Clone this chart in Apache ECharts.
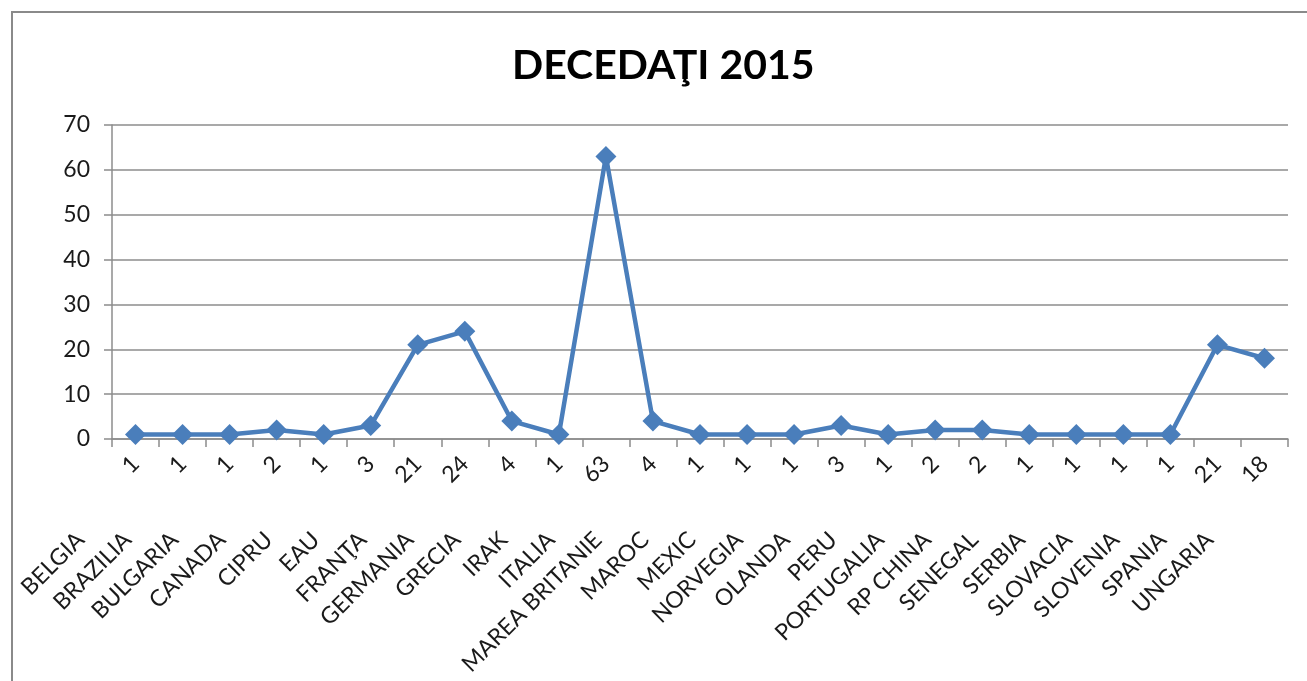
<!DOCTYPE html>
<html>
<head>
<meta charset="utf-8">
<script src="https://cdn.jsdelivr.net/npm/echarts@6/dist/echarts.min.js"></script>
<style>
  html, body { margin: 0; padding: 0; background: #fff; }
  #chart { width: 1307px; height: 681px; }
</style>
</head>
<body>
<div id="chart"></div>
<script>
const countries = ['BELGIA', 'BRAZILIA', 'BULGARIA', 'CANADA', 'CIPRU', 'EAU', 'FRANŢA', 'GERMANIA', 'GRECIA', 'IRAK', 'ITALIA', 'MAREA BRITANIE', 'MAROC', 'MEXIC', 'NORVEGIA', 'OLANDA', 'PERU', 'PORTUGALIA', 'RP CHINA', 'SENEGAL', 'SERBIA', 'SLOVACIA', 'SLOVENIA', 'SPANIA', 'UNGARIA']
const deaths = [1, 1, 1, 2, 1, 3, 21, 24, 4, 1, 63, 4, 1, 1, 1, 3, 1, 2, 2, 1, 1, 1, 1, 21, 18]
const yTicks = [0, 10, 20, 30, 40, 50, 60, 70]

const font = 'Lato, "Open Sans", sans-serif'
const labelColor = '#1a1a1a'
const gridGray = '#8c8c8c'

const chart = echarts.init(document.getElementById('chart'))

chart.setOption({
  backgroundColor: '#fff',
  animation: false,
  title: {
    text: 'DECEDAŢI 2015',
    left: 507,
    top: 40,
    textStyle: { fontFamily: font, fontWeight: 'bold', fontSize: 41, color: '#000' }
  },
  graphic: [
    {
      type: 'rect',
      shape: { x: 12, y: 12, width: 1320, height: 700 },
      style: { fill: 'none', stroke: '#8a8a8a', lineWidth: 2 },
      silent: true
    }
  ],
  // second grid only carries the country row, slid left like in the original
  grid: [
    { left: 112, right: 19, top: 125, bottom: 242 },
    { left: 57, right: 74, top: 125, bottom: 242 }
  ],
  xAxis: [
    {
      type: 'category',
      gridIndex: 0,
      data: deaths.map(String),
      boundaryGap: true,
      axisLine: { lineStyle: { color: gridGray, width: 1.5 } },
      axisTick: { show: true, length: 8, lineStyle: { color: gridGray, width: 1.5 } },
      axisLabel: { rotate: 45, margin: 21, fontFamily: font, fontSize: 23, color: labelColor, interval: 0 }
    },
    {
      type: 'category',
      gridIndex: 1,
      data: countries,
      boundaryGap: true,
      axisLine: { show: false },
      axisTick: { show: false },
      axisLabel: { rotate: 45, margin: 97, fontFamily: font, fontSize: 23, color: labelColor, interval: 0 }
    }
  ],
  yAxis: [
    {
      type: 'value',
      gridIndex: 0,
      min: yTicks[0],
      max: yTicks[yTicks.length - 1],
      interval: 10,
      axisLine: { show: true, lineStyle: { color: gridGray, width: 1.5 } },
      axisTick: { show: true, length: 8, lineStyle: { color: gridGray, width: 1.5 } },
      splitLine: { lineStyle: { color: gridGray, width: 1.5 } },
      axisLabel: { margin: 22, fontFamily: font, fontSize: 23, color: labelColor }
    },
    {
      type: 'value',
      gridIndex: 1,
      show: false,
      min: 0,
      max: 70
    }
  ],
  series: [
    {
      type: 'line',
      xAxisIndex: 0,
      yAxisIndex: 0,
      data: deaths,
      symbol: 'diamond',
      symbolSize: 21,
      lineStyle: { color: '#4a7ebb', width: 4.5 },
      itemStyle: { color: '#4a7ebb' }
    }
  ]
})
</script>
</body>
</html>
